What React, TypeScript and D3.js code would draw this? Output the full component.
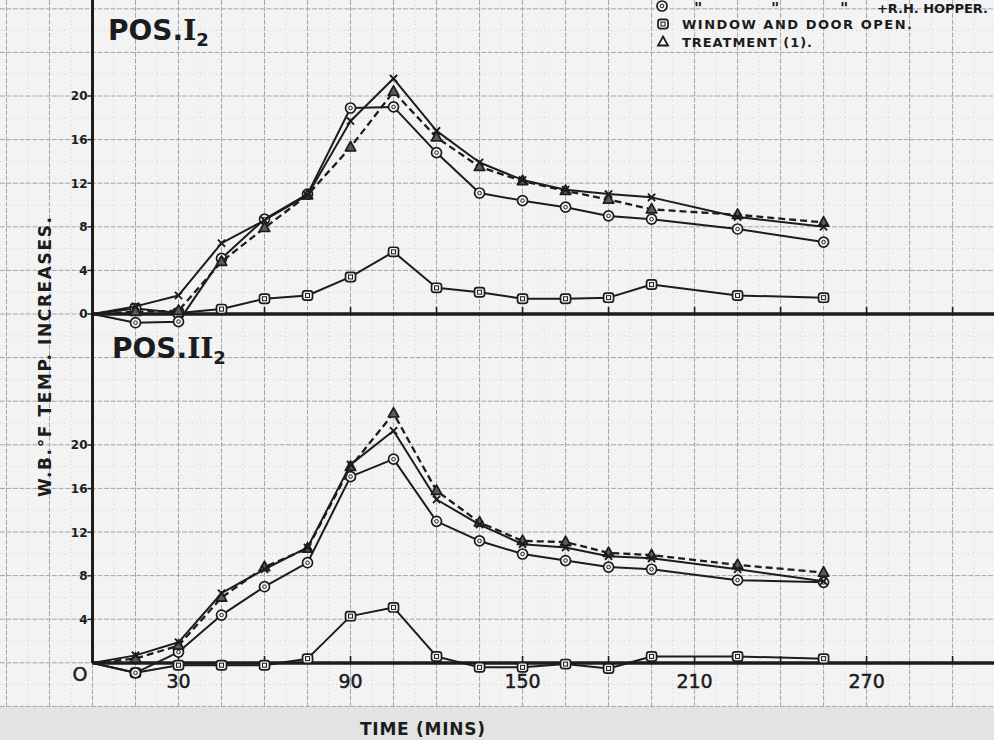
import React from "react";
import * as d3 from "d3";

// Sampling times (minutes) shared by every curve
const MINUTES = [0, 15, 30, 45, 60, 75, 90, 105, 120, 135, 150, 165, 180, 195, 225, 255];

const X_TICK_LABELS = [30, 90, 150, 210, 270];
const Y_TICK_LABELS = [4, 8, 12, 16, 20];

// Position I2 — W.B. °F temperature increases
const POS_I_CROSS = [0, 0.7, 1.7, 6.5, 8.6, 10.9, 17.7, 21.6, 16.8, 13.9, 12.3, 11.4, 11.0, 10.7, 8.9, 8.0];
const POS_I_TREATMENT = [0, 0.2, 0.3, 4.8, 7.9, 10.9, 15.3, 20.4, 16.2, 13.5, 12.2, 11.3, 10.5, 9.6, 9.1, 8.4];
const POS_I_HOPPER = [0, -0.8, -0.7, 5.1, 8.7, 11.0, 18.9, 19.0, 14.8, 11.1, 10.4, 9.8, 9.0, 8.7, 7.8, 6.6];
const POS_I_WINDOW = [0, 0.5, 0.1, 0.45, 1.4, 1.7, 3.4, 5.7, 2.4, 2.0, 1.4, 1.4, 1.5, 2.7, 1.7, 1.5];

// Position II2
const POS_II_CROSS = [0, 0.7, 1.9, 6.4, 8.6, 10.6, 18.2, 21.3, 15.0, 12.7, 10.9, 10.6, 9.8, 9.6, 8.6, 7.5];
const POS_II_TREATMENT = [0, 0.4, 1.6, 6.0, 8.8, 10.5, 18.0, 22.9, 15.8, 12.9, 11.2, 11.1, 10.1, 9.9, 9.0, 8.3];
const POS_II_HOPPER = [0, -0.9, 1.0, 4.4, 7.0, 9.2, 17.1, 18.7, 13.0, 11.2, 10.0, 9.4, 8.8, 8.6, 7.6, 7.4];
const POS_II_WINDOW = [0, -0.9, -0.2, -0.2, -0.2, 0.4, 4.3, 5.1, 0.6, -0.4, -0.4, -0.1, -0.5, 0.6, 0.6, 0.4];

const W = 994;
const H = 740;
const INK = "#1c1c1c";
const PAPER = "#f3f3f3";
const MARGIN_BG = "#e3e3e3";
const GRID = "#a6a6a6";
const GRID_MINOR = "#cacaca";
const FONT = "'DejaVu Sans', Verdana, sans-serif";

const x = d3.scaleLinear().domain([0, 300]).range([92.5, 952.6]);
const yTop = d3.scaleLinear().domain([0, 20]).range([314, 96]);
const yBot = d3.scaleLinear().domain([0, 20]).range([663, 445]);
const PAPER_BOTTOM = yTop(-36);

type MarkerKind = "cross" | "tri" | "circle" | "square";

function Marker({ kind, cx, cy }: { kind: MarkerKind; cx: number; cy: number }) {
  const t = `translate(${cx},${cy})`;
  if (kind === "cross") {
    return <path transform={t} d="M-3.6,-3.6L3.6,3.6M-3.6,3.6L3.6,-3.6" stroke={INK} strokeWidth={1.9} fill="none" />;
  }
  if (kind === "tri") {
    return <path transform={t} d="M0,-5.8L5.2,3.6L-5.2,3.6Z" fill="#5a5a5a" stroke={INK} strokeWidth={1.7} strokeLinejoin="round" />;
  }
  if (kind === "circle") {
    return (
      <g transform={t}>
        <circle r={5} fill={PAPER} stroke={INK} strokeWidth={1.7} />
        <circle r={1.8} fill="none" stroke={INK} strokeWidth={1} />
      </g>
    );
  }
  return (
    <g transform={t}>
      <rect x={-5} y={-4.6} width={10} height={9.2} rx={2.6} fill={PAPER} stroke={INK} strokeWidth={1.7} />
      <rect x={-2} y={-2} width={4} height={4} fill="none" stroke={INK} strokeWidth={1} />
    </g>
  );
}

type Series = { values: number[]; kind: MarkerKind; dashed?: boolean };

function Curves({ y, series }: { y: d3.ScaleLinear<number, number>; series: Series[] }) {
  const line = d3
    .line<number>()
    .x((_, i) => x(MINUTES[i]))
    .y((v) => y(v));
  return (
    <g>
      {series.map((s, si) => (
        <g key={si}>
          <path
            d={line(s.values) || ""}
            fill="none"
            stroke={INK}
            strokeWidth={s.dashed ? 2.3 : 2}
            strokeDasharray={s.dashed ? "7,4" : undefined}
            strokeLinejoin="round"
          />
          {s.values.map((v, i) =>
            i === 0 ? null : <Marker key={i} kind={s.kind} cx={x(MINUTES[i])} cy={y(v)} />
          )}
        </g>
      ))}
    </g>
  );
}

function Grid() {
  const vMajor = d3.range(-30, 316, 15);
  const vMinor = d3.range(-37.5, 316, 15);
  const hMajor = d3.range(-36, 29, 4);
  const hMinor = d3.range(-34, 29, 4);
  return (
    <g>
      {vMinor.map((m) => (
        <line key={"vm" + m} x1={x(m)} x2={x(m)} y1={0} y2={PAPER_BOTTOM} stroke={GRID_MINOR} strokeWidth={0.8} strokeDasharray="1,3" />
      ))}
      {hMinor.map((v) => (
        <line key={"hm" + v} x1={0} x2={W} y1={yTop(v)} y2={yTop(v)} stroke={GRID_MINOR} strokeWidth={0.8} strokeDasharray="1,3" />
      ))}
      {vMajor.map((m) => (
        <line key={"v" + m} x1={x(m)} x2={x(m)} y1={0} y2={PAPER_BOTTOM} stroke={GRID} strokeWidth={1} strokeDasharray="5,1.5" />
      ))}
      {hMajor.map((v) => (
        <line key={"h" + v} x1={0} x2={W} y1={yTop(v)} y2={yTop(v)} stroke={GRID} strokeWidth={1} strokeDasharray="5,1.5" />
      ))}
    </g>
  );
}

function ZeroLine({ y }: { y: d3.ScaleLinear<number, number> }) {
  const ticks = d3.range(30, 316, 30);
  return (
    <g>
      <line x1={x(0)} x2={W} y1={y(0)} y2={y(0)} stroke={INK} strokeWidth={3.4} />
      {ticks.map((m) => (
        <line key={m} x1={x(m)} x2={x(m)} y1={y(0)} y2={y(0) - 7} stroke={INK} strokeWidth={1.6} />
      ))}
    </g>
  );
}

function YTicks({ y, showZero }: { y: d3.ScaleLinear<number, number>; showZero: boolean }) {
  const vals = showZero ? [0, ...Y_TICK_LABELS] : Y_TICK_LABELS;
  return (
    <g fontFamily={FONT} fontWeight="bold" fontSize={12} fill={INK}>
      {vals.map((v) => (
        <g key={v}>
          <line x1={x(0) - 5} x2={x(0)} y1={y(v)} y2={y(v)} stroke={INK} strokeWidth={1.4} />
          <text x={x(0) - 5} y={y(v)} dy="0.36em" textAnchor="end">
            {v}
          </text>
        </g>
      ))}
    </g>
  );
}

function Title({ tx, ty, numeral }: { tx: number; ty: number; numeral: string }) {
  return (
    <text x={tx} y={ty} fill={INK} fontFamily={FONT} fontWeight="bold" fontSize={28}>
      POS.
      <tspan fontFamily="'DejaVu Serif', serif">{numeral}</tspan>
      <tspan fontSize={18} dy={6}>2</tspan>
    </text>
  );
}

export default function App() {
  const topSeries: Series[] = [
    { values: POS_I_WINDOW, kind: "square" },
    { values: POS_I_HOPPER, kind: "circle" },
    { values: POS_I_TREATMENT, kind: "tri", dashed: true },
    { values: POS_I_CROSS, kind: "cross" },
  ];
  const botSeries: Series[] = [
    { values: POS_II_WINDOW, kind: "square" },
    { values: POS_II_HOPPER, kind: "circle" },
    { values: POS_II_TREATMENT, kind: "tri", dashed: true },
    { values: POS_II_CROSS, kind: "cross" },
  ];

  const legendFont = { fontFamily: FONT, fontWeight: "bold" as const, fontSize: 13, fill: INK };

  return (
    <svg
      width={W}
      height={H}
      viewBox={`0 0 ${W} ${H}`}
      style={{ position: "absolute", left: 0, top: 0, display: "block" }}
    >
      <rect x={0} y={0} width={W} height={H} fill={MARGIN_BG} />
      <rect x={0} y={0} width={W} height={PAPER_BOTTOM} fill={PAPER} />
      <Grid />

      {/* vertical axis shared by both panels */}
      <line x1={x(0)} x2={x(0)} y1={0} y2={yBot(0)} stroke={INK} strokeWidth={3} />

      <ZeroLine y={yTop} />
      <ZeroLine y={yBot} />

      <Curves y={yTop} series={topSeries} />
      <Curves y={yBot} series={botSeries} />

      <YTicks y={yTop} showZero={true} />
      <YTicks y={yBot} showZero={false} />
      <text x={80} y={674} dy="0.36em" textAnchor="middle" fontFamily={FONT} fontSize={19} fill={INK} stroke={INK} strokeWidth={0.5}>
        O
      </text>

      {X_TICK_LABELS.map((m) => (
        <text key={m} x={x(m)} y={688} textAnchor="middle" fontFamily={FONT} fontSize={19} fill={INK} stroke={INK} strokeWidth={0.5}>
          {m}
        </text>
      ))}

      <text
        x={360}
        y={735}
        textLength={125}
        lengthAdjust="spacing"
        fontFamily={FONT}
        fontWeight="bold"
        fontSize={17}
        fill={INK}
      >
        TIME (MINS)
      </text>

      <text
        transform="translate(51,357) rotate(-90)"
        textAnchor="middle"
        textLength={280}
        lengthAdjust="spacing"
        fontFamily={FONT}
        fontWeight="bold"
        fontSize={17}
        fill={INK}
      >
        W.B.°F TEMP. INCREASES.
      </text>

      <Title tx={108} ty={40} numeral="I" />
      <Title tx={112} ty={358} numeral="II" />

      {/* legend */}
      <g>
        <Marker kind="circle" cx={662} cy={6} />
        <text x={694} y={14} {...legendFont} fontSize={16}>"</text>
        <text x={771} y={14} {...legendFont} fontSize={16}>"</text>
        <text x={840} y={14} {...legendFont} fontSize={16}>"</text>
        <text x={877} y={13} textLength={111} lengthAdjust="spacing" {...legendFont}>
          +R.H. HOPPER.
        </text>
        <Marker kind="square" cx={663} cy={24} />
        <text x={682} y={29} textLength={230} lengthAdjust="spacing" {...legendFont}>
          WINDOW AND DOOR OPEN.
        </text>
        <path transform="translate(663,42)" d="M0,-5.5L5,3.5L-5,3.5Z" fill={PAPER} stroke={INK} strokeWidth={1.8} />
        <text x={682} y={47} textLength={130} lengthAdjust="spacing" {...legendFont}>
          TREATMENT (1).
        </text>
      </g>
    </svg>
  );
}
